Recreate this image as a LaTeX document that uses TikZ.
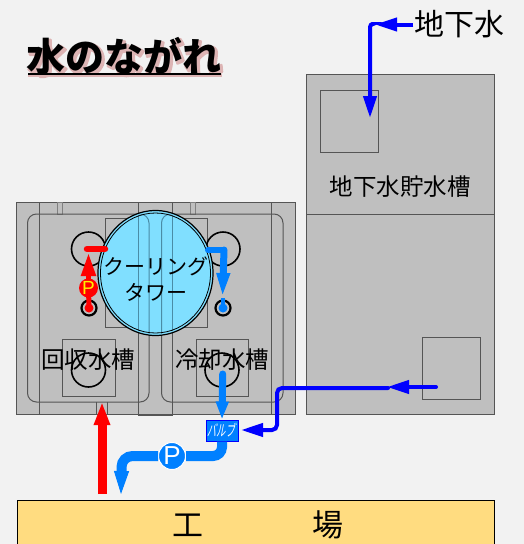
\documentclass[tikz,border=0pt]{standalone}
\usepackage{fontspec}
\setmainfont{Noto Sans CJK JP}
\newfontfamily\latinf{Liberation Sans}
\usetikzlibrary{arrows.meta,shapes.geometric}
\definecolor{bgc}{HTML}{F2F2F2}
\definecolor{tankc}{HTML}{BFBFBF}
\definecolor{edgec}{HTML}{555555}
\definecolor{towerc}{HTML}{80DFFF}
\definecolor{towerl}{HTML}{4A8CA6}
\definecolor{factc}{HTML}{FFDC80}
\definecolor{coolb}{HTML}{0080FF}
\definecolor{deepb}{HTML}{0000FF}
\definecolor{hotr}{HTML}{FF0000}
\definecolor{shadowc}{HTML}{DDB4B4}
\newcommand{\fsz}[1]{\fontsize{#1}{#1}\selectfont}
\tikzset{
  x=1pt,y=-1pt,
  tank/.style={draw=edgec,line width=1pt,fill=tankc},
  part/.style={draw=edgec,line width=1pt},
  ring/.style={circle,draw=black,line width=1.6pt,inner sep=0pt},
  lab/.style={inner sep=0pt,text=black},
  headS/.style={-{Triangle[length=22pt,width=13pt]}},
  deep/.style={draw=deepb,line width=4pt,line cap=round,rounded corners=5pt,headS},
  cool/.style={draw=coolb,line width=7pt,line cap=round,headS},
  hot/.style={draw=hotr,line width=6.5pt,line cap=round},
}
\begin{document}
\begin{tikzpicture}
\useasboundingbox[fill=bgc] (0,0) rectangle (524,544);
% title
\fill[shadowc] (28,74) rectangle (222,77);
\node[lab,text=shadowc,font=\fsz{39}\bfseries] (titleshadow) at (125.5,58) {\special{pdf:code 1 j 2 Tr 2.5 w 0.867 0.706 0.706 RG}水のながれ\special{pdf:code 0 Tr 1 w}};
\node[lab,font=\fsz{39}\bfseries] (title) at (124,56) {水のながれ};
\fill[black] (28,72.5) rectangle (221,74.5);
% groundwater tank
\draw[tank] (306,74) rectangle (494,414);
\draw[part] (306,214) -- (494,214);
\draw[part] (320.5,90) rectangle (378.5,152);
\draw[part] (422,337) rectangle (480,399);
\node[lab,font=\fsz{23.5}] (gwtank) at (400,187) {地下水貯水槽};
% recovery / cooling tank
\draw[tank] (16,202) rectangle (295,414);
\draw[part] (39.5,202) -- (39.5,414);
\draw[part] (271,202) -- (271,414);
\draw[part,draw=gray] (57.5,202) rectangle (62,214);
\draw[part,draw=gray] (190.5,202) rectangle (195,214);
\draw[part] (96.5,414) -- (96.5,402) (107.5,402) -- (107.5,414);
\draw[part,rounded corners=9pt] (27.5,214) rectangle (149,402);
\draw[part,rounded corners=9pt] (161.5,214) rectangle (283,402);
\draw[part] (138,202) rectangle (172.7,415);
\draw[part] (105,218) rectangle (207,327);
\draw[part] (62.5,339) rectangle (115,396);
\draw[part] (196,339) rectangle (248.5,396);
\node[ring,minimum size=34pt] (bigL) at (88.5,249) {};
\node[ring,minimum size=34pt] (bigR) at (223,249) {};
\node[ring,minimum size=34pt] (lowL) at (88.5,370) {};
\node[ring,minimum size=34pt] (lowR) at (222,370) {};
\node[ring,line width=2.2pt,minimum size=15pt] (smallL) at (89,308) {};
\node[ring,line width=2.2pt,minimum size=15pt] (smallR) at (223,308) {};
% cooling tower
\node[ellipse,draw=black,line width=1.2pt,fill=towerc,minimum width=115pt,minimum height=125pt,inner sep=0pt] (tower) at (155.5,273) {};
\begin{scope}
\clip (155.5,273) ellipse [x radius=56,y radius=61];
\draw[towerl,line width=1pt] (138,200) -- (138,340) (172.7,200) -- (172.7,340);
\draw[towerl,line width=1pt,rounded corners=9pt] (100,214) -- (149,214) -- (149,340);
\draw[towerl,line width=1pt,rounded corners=9pt] (210,214) -- (161.5,214) -- (161.5,340);
\end{scope}
\draw[black,line width=.8pt] (155.5,273) ellipse [x radius=55,y radius=60];
\node[lab,font=\fsz{21},align=center] (towerlab) at (156,279) {クーリング\\[5pt]タワー};
\node[lab,font=\fsz{23.5}] (kaishu) at (88.5,360) {回収水槽};
\node[lab,font=\fsz{23.5}] (reikyaku) at (222,360) {冷却水槽};
% factory
\draw[draw=black,line width=1pt,fill=factc] (17,500) rectangle (494,550);
\node[lab,font=\fsz{31}] (fact1) at (188,525) {工};
\node[lab,font=\fsz{31}] (fact2) at (328,525) {場};
% groundwater flow
\node[lab,font=\fsz{30}] (gw) at (459.5,24.5) {地下水};
\coordinate (gwcorner) at (370,24);
\coordinate (gwtip) at (370,118);
\draw[deep,line cap=butt] (gw.west) ++(-1,0) -- (375,24.5);
\draw[deep,rounded corners=3pt] (gwcorner) ++(2,0) -- (gwcorner) -- (gwtip);
\coordinate (in2) at (436,387);
\coordinate (tip2) at (387,387);
\draw[deep] (in2) -- (tip2);
\node[draw=deepb,line width=1pt,fill=coolb,inner sep=0pt,minimum width=32pt,minimum height=21pt] (valve) at (222,430.5) {};
\node[lab,text=white,font=\fsz{13},xslant=.18,transform shape] (valvelab) at (valve.center) {\scalebox{.72}[1.2]{バルブ}};
\coordinate (c2a) at (277,388);
\coordinate (c2b) at (277,430);
\draw[deep] (388,388) -- (c2a) -- (c2b) -- (241,430);
% red flow
\coordinate (redbot) at (102,494);
\coordinate (redtop) at (102,402);
\draw[draw=hotr,line width=9pt,-{Triangle[length=23pt,width=15pt]}] (redbot) -- (redtop);
\coordinate (redbar) at (87,249);
\coordinate (redbarend) at (105,249);
\draw[hot] (redbar) -- (redbarend);
\coordinate (pumpLc) at (88.5,288);
\fill[hotr] (smallL.center) circle (4.5pt);
\draw[draw=hotr,line width=5pt] (smallL.center) -- (pumpLc);
\draw[draw=hotr,line width=5pt,-{Triangle[length=23pt,width=14pt]}] (pumpLc) -- (88.5,253);
\node[circle,inner sep=0pt,fill=hotr,text=yellow,minimum size=19pt,font=\latinf\fsz{19}] (pumpL) at (pumpLc) {P};
% cool flows
\coordinate (coolbar) at (224,250);
\draw[draw=coolb,line width=6pt,line cap=round] (208,250) -- (coolbar);
\draw[cool,-{Triangle[length=25pt,width=12pt]}] (coolbar) -- (222.5,298);
\fill[coolb] (smallR.center) circle (4.5pt);
\draw[draw=coolb,line width=4pt] (smallR.center) -- (223,298);
\coordinate (lowstart) at (222.7,374);
\draw[cool,-{Triangle[length=18pt,width=12pt]}] (lowstart) -- (valve.north);
\node[circle,fill=coolb,draw=white,line width=1pt,minimum size=27pt,inner sep=0pt,text=white,font=\latinf\fsz{26}] (pumpB) at (172,456) {P};
\draw[draw=coolb,line width=10pt,rounded corners=9pt] (valve.south) -- (222,456) -- (pumpB.east);
\draw[draw=coolb,line width=10pt,rounded corners=11pt] (pumpB.west) -- (121.5,456) -- (121.5,472);
\coordinate (coolend) at (121,494);
\draw[draw=coolb,line width=1pt,-{Triangle[length=23pt,width=15pt]}] (121.5,471) -- (coolend);
\end{tikzpicture}
\end{document}
